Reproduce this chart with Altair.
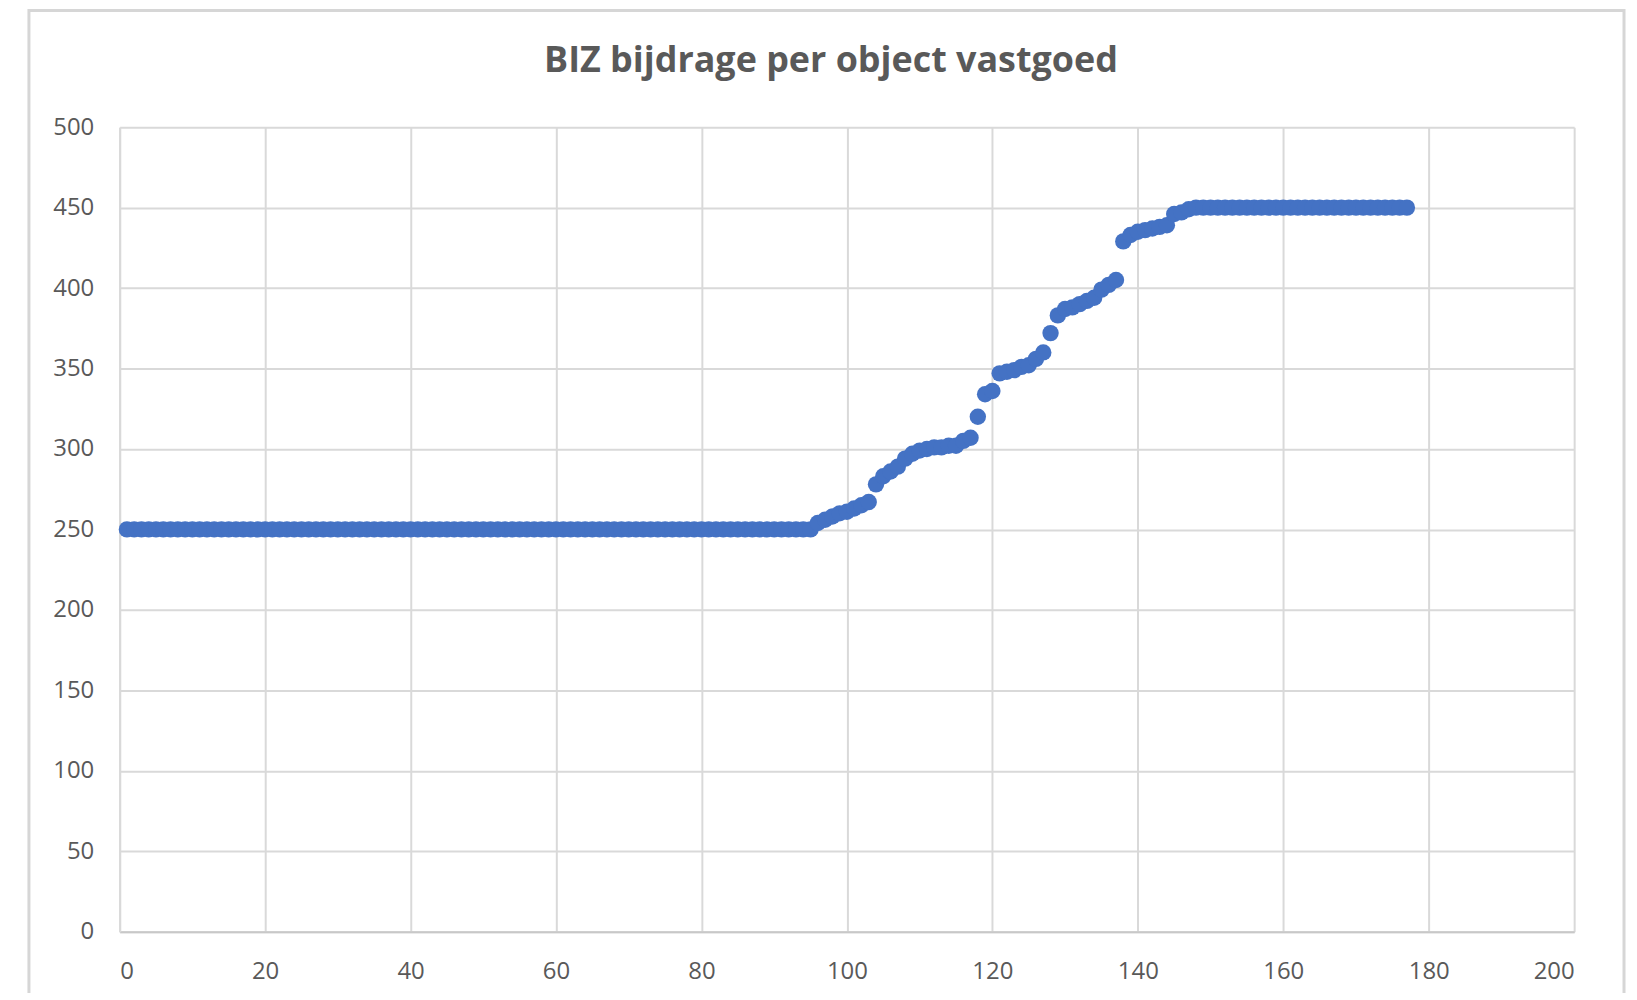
import altair as alt
import pandas as pd

# Object index (1..177) and BIZ contribution per object
object_nr = list(range(1, 178))
bijdrage = (
    [250] * 95
    + [254, 256, 258, 260, 261, 263, 265, 267, 278, 283,
       286, 289, 294, 297, 299, 300, 301, 301, 302, 302,
       305, 307, 320, 334, 336, 347, 348, 349, 351, 352,
       356, 360, 372, 383, 387, 388, 390, 392, 394, 399,
       402, 405, 429, 433, 435, 436, 437, 438, 439, 446,
       447, 449]
    + [450] * 30
)
x_ticks = [0, 20, 40, 60, 80, 100, 120, 140, 160, 180, 200]
y_ticks = [0, 50, 100, 150, 200, 250, 300, 350, 400, 450, 500]
title_text = "BIZ bijdrage per object vastgoed"

df = pd.DataFrame({"object": object_nr, "bijdrage": bijdrage})

GRID = "#D9D9D9"
TEXT = "#595959"
FONT = "Open Sans"

points = alt.Chart(df).mark_circle(size=270, color="#4472C4", opacity=1).encode(
    x=alt.X("object:Q",
            scale=alt.Scale(domain=[0, 200], nice=False),
            axis=alt.Axis(values=x_ticks, title=None, grid=True, ticks=False,
                          labelPadding=28, domainColor="#C8C8C8", domainWidth=2)),
    y=alt.Y("bijdrage:Q",
            scale=alt.Scale(domain=[0, 500], nice=False),
            axis=alt.Axis(values=y_ticks, title=None, grid=True, ticks=False,
                          labelPadding=26, domainColor=GRID, domainWidth=2)),
)

frame = alt.Chart(pd.DataFrame({"a": [0]})).mark_rect(
    fill=None, stroke="#D6D6D6", strokeWidth=3
).encode(
    x=alt.value(-91), x2=alt.value(1509), y=alt.value(-117), y2=alt.value(900)
)

chart = alt.layer(frame, points).properties(
    width=1459,
    height=807,
    padding={"left": 112, "top": 118, "right": 55, "bottom": 60},
    autosize=alt.AutoSizeParams(type="none"),
    title=alt.TitleParams(title_text, fontSize=36, font=FONT, fontWeight="bold",
                          color=TEXT, anchor="middle", offset=-71, dx=-16),
).configure_view(stroke=None).configure_axis(
    gridColor=GRID, gridWidth=2, labelFont=FONT, labelFontSize=24,
    labelColor=TEXT
)

chart.save("out.html", embed_options={"renderer": "svg", "actions": False})
